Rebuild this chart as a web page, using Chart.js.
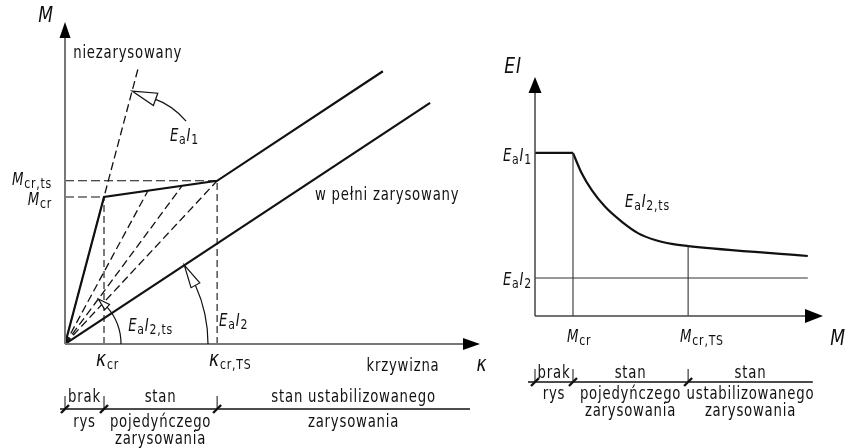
<!DOCTYPE html>
<html lang="pl">
<head>
<meta charset="utf-8">
<script src="https://cdn.jsdelivr.net/npm/chart.js@4.4.1/dist/chart.umd.min.js"></script>
<style>
  html, body { margin: 0; padding: 0; background: #fff; }
  #wrap { position: relative; width: 849px; height: 448px; }
  canvas { position: absolute; top: 0; }
  #momentCurvature { left: 0; }
  #stiffness { left: 470px; }
</style>
</head>
<body>
<div id="wrap">
  <canvas id="momentCurvature" width="495" height="448"></canvas>
  <canvas id="stiffness" width="379" height="448"></canvas>
</div>
<script>
// M–κ diagram, κ in units of κcr, M in units of Mcr
const curveKappa = [0, 1.0, 3.9, 8.15];          // tension stiffening path
const curveMoment = [0, 1.0, 1.11, 1.855];
const uncrackedKappa = [0, 1.89];                 // E_a I_1
const uncrackedMoment = [0, 1.89];
const crackedKappa = [0, 9.36];                   // E_a I_2
const crackedMoment = [0, 1.64];
const secantKappa = [2.13, 3.0, 3.9];             // E_a I_2,ts secants
const secantMoment = [1.044, 1.075, 1.11];
const kappaAxisMax = 10.64;
const momentAxisMax = 2.19;

// EI–M diagram, M in units of Mcr, EI in units of E_a I_1
const eiMoment = [1.0, 1.23, 1.49, 1.84, 2.28, 2.72, 3.16, 3.60, 4.03, 7.18];
const eiValue = [1.0, 0.875, 0.773, 0.671, 0.579, 0.507, 0.466, 0.442, 0.429, 0.368];
const eiLevels = [1.0, 0.233];                    // E_a I_1, E_a I_2
const mMarks = [1.0, 4.03];                       // Mcr, Mcr,ts
const mAxisMax = 7.58;
const eiAxisMax = 1.466;

const FONT = '"DejaVu Sans", sans-serif';
const SX = 0.78;          // horizontal squeeze for a narrow drafting look
const INK = '#111';

const pts = (xs, ys) => xs.map((x, i) => ({ x, y: ys[i] }));

// text made of italic symbols and upright subscripts
function label(ctx, x, y, parts, align) {
  const spec = {
    i: [17, true, 0], n: [17, false, 0], s: [14, false, 3],
    A: [22, true, 0], K: [22, true, 0]
  };
  ctx.save();
  ctx.fillStyle = INK;
  ctx.textBaseline = 'alphabetic';
  ctx.textAlign = 'left';
  ctx.letterSpacing = '1px';
  const widths = parts.map(([t, k]) => {
    const s = spec[k];
    ctx.font = (s[1] ? 'italic ' : '') + s[0] + 'px ' + FONT;
    return ctx.measureText(t).width * SX;
  });
  const total = widths.reduce((a, b) => a + b, 0);
  let cx = align === 'center' ? x - total / 2 : align === 'right' ? x - total : x;
  parts.forEach(([t, k], i) => {
    const s = spec[k];
    ctx.font = (s[1] ? 'italic ' : '') + s[0] + 'px ' + FONT;
    ctx.save();
    ctx.translate(cx, y + s[2]);
    ctx.scale(SX, 1);
    ctx.fillText(t, 0, 0);
    ctx.restore();
    cx += widths[i];
  });
  ctx.restore();
}

function text(ctx, x, y, t) {
  label(ctx, x, y, [[t, 'n']], 'center');
}

const EI = sub => [['E', 'i'], ['a', 's'], ['I', 'i'], [sub, 's']];

function arrowHead(ctx, tipX, tipY, dir, len, half) {
  // filled arrow; dir: 'up' or 'right'
  ctx.beginPath();
  if (dir === 'up') {
    ctx.moveTo(tipX, tipY);
    ctx.lineTo(tipX - half, tipY + len);
    ctx.lineTo(tipX + half, tipY + len);
  } else {
    ctx.moveTo(tipX, tipY);
    ctx.lineTo(tipX - len, tipY - half);
    ctx.lineTo(tipX - len, tipY + half);
  }
  ctx.closePath();
  ctx.fillStyle = '#000';
  ctx.fill();
}

// open triangle pointing from (bx,by) towards (tx,ty)
function openHead(ctx, bx, by, tx, ty, half) {
  const dx = tx - bx, dy = ty - by, l = Math.hypot(dx, dy);
  const nx = -dy / l * half, ny = dx / l * half;
  ctx.beginPath();
  ctx.moveTo(tx, ty);
  ctx.lineTo(bx + nx, by + ny);
  ctx.lineTo(bx - nx, by - ny);
  ctx.closePath();
  ctx.fillStyle = '#fff';
  ctx.fill();
  ctx.lineWidth = 1.2;
  ctx.strokeStyle = INK;
  ctx.stroke();
}

// arc around the origin ending in an open head that touches a line of given angle
function angleArrow(ctx, ox, oy, r, angle, headLen, half) {
  const a0 = angle - headLen / r;
  ctx.beginPath();
  ctx.arc(ox, oy, r, 0, -a0, true);
  ctx.lineWidth = 1.2;
  ctx.strokeStyle = INK;
  ctx.stroke();
  openHead(ctx, ox + r * Math.cos(a0), oy - r * Math.sin(a0),
    ox + r * Math.cos(angle), oy - r * Math.sin(angle), half);
}

// cracking stages bar under each diagram
function stages(ctx, lineY, x0, x1, ticks, cols, rows) {
  ctx.save();
  ctx.strokeStyle = INK;
  ctx.lineWidth = 1.3;
  ctx.beginPath();
  ctx.moveTo(x0, lineY);
  ctx.lineTo(x1, lineY);
  ctx.stroke();
  ticks.forEach(t => {
    ctx.lineWidth = 1;
    ctx.beginPath();
    ctx.moveTo(t, lineY);
    ctx.lineTo(t, lineY - 13);
    ctx.stroke();
    ctx.lineWidth = 2.4;
    ctx.beginPath();
    ctx.moveTo(t - 4, lineY + 4);
    ctx.lineTo(t + 4, lineY - 4);
    ctx.stroke();
  });
  ctx.restore();
  cols.forEach(col => col.lines.forEach((t, j) => text(ctx, col.x, rows[j], t)));
}

const dashed = { borderDash: [8, 4], borderWidth: 1.3 };
const solid = { borderWidth: 2.2 };

function lineSet(data, style) {
  return Object.assign({ data, showLine: true, pointRadius: 0, borderColor: INK, fill: false, tension: 0 }, style);
}

const baseOptions = (pad, xMax, yMax) => ({
  responsive: false,
  animation: false,
  layout: { padding: pad },
  plugins: { legend: { display: false }, tooltip: { enabled: false } },
  scales: {
    x: { type: 'linear', min: 0, max: xMax, display: false },
    y: { type: 'linear', min: 0, max: yMax, display: false }
  }
});

// ---- left: moment vs curvature ----
const mcDecor = {
  id: 'mcDecor',
  afterDraw(chart) {
    const { ctx, scales: { x, y } } = chart;
    const ox = x.getPixelForValue(0), oy = y.getPixelForValue(0);
    const right = x.getPixelForValue(kappaAxisMax), top = y.getPixelForValue(momentAxisMax);
    const px = (k, m) => [x.getPixelForValue(k), y.getPixelForValue(m)];

    ctx.save();
    ctx.strokeStyle = '#777';
    ctx.lineWidth = 2;
    ctx.beginPath();
    ctx.moveTo(ox, oy); ctx.lineTo(ox, top + 10);
    ctx.moveTo(ox, oy); ctx.lineTo(right - 10, oy);
    ctx.stroke();
    arrowHead(ctx, ox, top, 'up', 16, 5.5);
    arrowHead(ctx, right, oy, 'right', 17, 6);

    // E_a I_1 pointer on the uncracked line
    const [tx, ty] = px(1.72, 1.72);
    openHead(ctx, tx + 23.5, ty + 8.3, tx, ty, 6.5);
    ctx.beginPath();
    ctx.moveTo(tx + 23.5, ty + 8.3);
    ctx.quadraticCurveTo(tx + 40, ty + 14, tx + 54, ty + 30);
    ctx.lineWidth = 1.2;
    ctx.strokeStyle = INK;
    ctx.stroke();

    // angle arrows for E_a I_2 and E_a I_2,ts
    const [cx2, cy2] = px(crackedKappa[1], crackedMoment[1]);
    angleArrow(ctx, ox, oy, 143, Math.atan2(oy - cy2, cx2 - ox), 23, 5);
    const [cx3, cy3] = px(secantKappa[1], secantMoment[1]);
    angleArrow(ctx, ox, oy, 56, Math.atan2(oy - cy3, cx3 - ox), 12, 3.5);
    ctx.restore();

    // axis and tick labels
    const [kcrX, mcrY] = px(curveKappa[1], curveMoment[1]);
    const [ktsX, mtsY] = px(curveKappa[2], curveMoment[2]);
    label(ctx, ox - 19, top, [['M', 'A']], 'center');
    label(ctx, ox - 13, mtsY + 4, [['M', 'i'], ['cr,ts', 's']], 'right');
    label(ctx, ox - 13, mcrY + 8, [['M', 'i'], ['cr', 's']], 'right');
    label(ctx, kcrX - 8, oy + 22, [['κ', 'K'], ['cr', 's']], 'left');
    label(ctx, ktsX - 8, oy + 22, [['κ', 'K'], ['cr,TS', 's']], 'left');
    text(ctx, right - 77, oy + 27, 'krzywizna');
    label(ctx, right + 2, oy + 27, [['κ', 'K']], 'center');

    const [ux, uy] = px(uncrackedKappa[1], uncrackedMoment[1]);
    text(ctx, ux - 11, uy - 8, 'niezarysowany');
    const [wx, wy] = px(8.26, 0.98);
    text(ctx, wx, wy, 'w pełni zarysowany');
    const [e1x, e1y] = px(2.69, 1.38);
    label(ctx, e1x, e1y, EI('1'), 'left');
    const [e2x, e2y] = px(1.62, 0.09);
    label(ctx, e2x, e2y, EI('2,ts'), 'left');
    label(ctx, ktsX + 2, px(0, 0.122)[1], EI('2'), 'left');

    stages(ctx, 409, ox - 5, 470, [ox, kcrX, ktsX], [
      { x: (ox + kcrX) / 2, lines: ['brak', 'rys'] },
      { x: (kcrX + ktsX) / 2, lines: ['stan', 'pojedyńczego', 'zarysowania'] },
      { x: (ktsX + 490) / 2, lines: ['stan ustabilizowanego', 'zarysowania'] }
    ], [402, 427, 444]);
  }
};

const kCr = curveKappa[1], mCrL = curveMoment[1];
const kTs = curveKappa[2], mTsL = curveMoment[2];

new Chart(document.getElementById('momentCurvature'), {
  type: 'scatter',
  data: {
    datasets: [
      lineSet(pts([kCr, kCr], [0, mCrL]), { borderDash: [7, 4], borderWidth: 1.1 }),
      lineSet(pts([kTs, kTs], [0, mTsL]), { borderDash: [7, 4], borderWidth: 1.1 }),
      lineSet(pts([0, kCr], [mCrL, mCrL]), { borderDash: [9, 4], borderWidth: 1.1 }),
      lineSet(pts([0, kTs], [mTsL, mTsL]), { borderDash: [9, 4], borderWidth: 1.1 }),
      lineSet(pts(uncrackedKappa, uncrackedMoment), dashed),
      ...secantKappa.map((k, i) => lineSet(pts([0, k], [0, secantMoment[i]]), dashed)),
      lineSet(pts(curveKappa, curveMoment), solid),
      lineSet(pts(crackedKappa, crackedMoment), solid)
    ]
  },
  options: baseOptions({ left: 65, right: 15, top: 22, bottom: 104 }, kappaAxisMax, momentAxisMax),
  plugins: [mcDecor]
});

// ---- right: flexural stiffness vs moment ----
const eiDecor = {
  id: 'eiDecor',
  afterDraw(chart) {
    const { ctx, scales: { x, y } } = chart;
    const ox = x.getPixelForValue(0), oy = y.getPixelForValue(0);
    const right = x.getPixelForValue(mAxisMax), top = y.getPixelForValue(eiAxisMax);

    ctx.save();
    ctx.strokeStyle = '#444';
    ctx.lineWidth = 1.5;
    ctx.beginPath();
    ctx.moveTo(ox, oy); ctx.lineTo(ox, top + 10);
    ctx.moveTo(ox, oy); ctx.lineTo(right - 10, oy);
    ctx.stroke();
    arrowHead(ctx, ox, top, 'up', 16, 6.5);
    arrowHead(ctx, right, oy, 'right', 18, 7);
    ctx.restore();

    const m1 = x.getPixelForValue(mMarks[0]), m2 = x.getPixelForValue(mMarks[1]);
    const lineEnd = x.getPixelForValue(eiMoment[eiMoment.length - 1]) + 5;
    label(ctx, ox - 22, top - 4, [['EI', 'A']], 'center');
    label(ctx, ox - 3, y.getPixelForValue(eiLevels[0]) + 8, EI('1'), 'right');
    label(ctx, ox - 3, y.getPixelForValue(eiLevels[1]) + 7, EI('2'), 'right');
    label(ctx, x.getPixelForValue(2.37), y.getPixelForValue(0.669), EI('2,ts'), 'left');
    label(ctx, m1 - 6, oy + 26, [['M', 'i'], ['cr', 's']], 'left');
    label(ctx, m2 - 8, oy + 26, [['M', 'i'], ['cr,TS', 's']], 'left');
    label(ctx, right + 15, oy + 29, [['M', 'A']], 'center');

    stages(ctx, 382, ox - 7, lineEnd, [ox, m1, m2], [
      { x: (ox + m1) / 2, lines: ['brak', 'rys'] },
      { x: (m1 + m2) / 2, lines: ['stan', 'pojedyńczego', 'zarysowania'] },
      { x: (m2 + lineEnd) / 2, lines: ['stan', 'ustabilizowanego', 'zarysowania'] }
    ], [378, 399, 416]);
  }
};

const mEnd = eiMoment[eiMoment.length - 1];
const thin = { borderWidth: 1.1, borderColor: '#333' };

new Chart(document.getElementById('stiffness'), {
  type: 'scatter',
  data: {
    datasets: [
      lineSet(pts([0, mEnd], [eiLevels[1], eiLevels[1]]), thin),
      lineSet(pts([mMarks[0], mMarks[0]], [0, eiValue[0]]), thin),
      lineSet(pts([mMarks[1], mMarks[1]], [0, eiValue[8]]), thin),
      lineSet(pts([0, mMarks[0]], [eiLevels[0], eiLevels[0]]), solid),
      lineSet(pts(eiMoment, eiValue), Object.assign({ cubicInterpolationMode: 'monotone' }, solid))
    ]
  },
  options: baseOptions({ left: 65, right: 26, top: 77, bottom: 132 }, mAxisMax, eiAxisMax),
  plugins: [eiDecor]
});
</script>
</body>
</html>
